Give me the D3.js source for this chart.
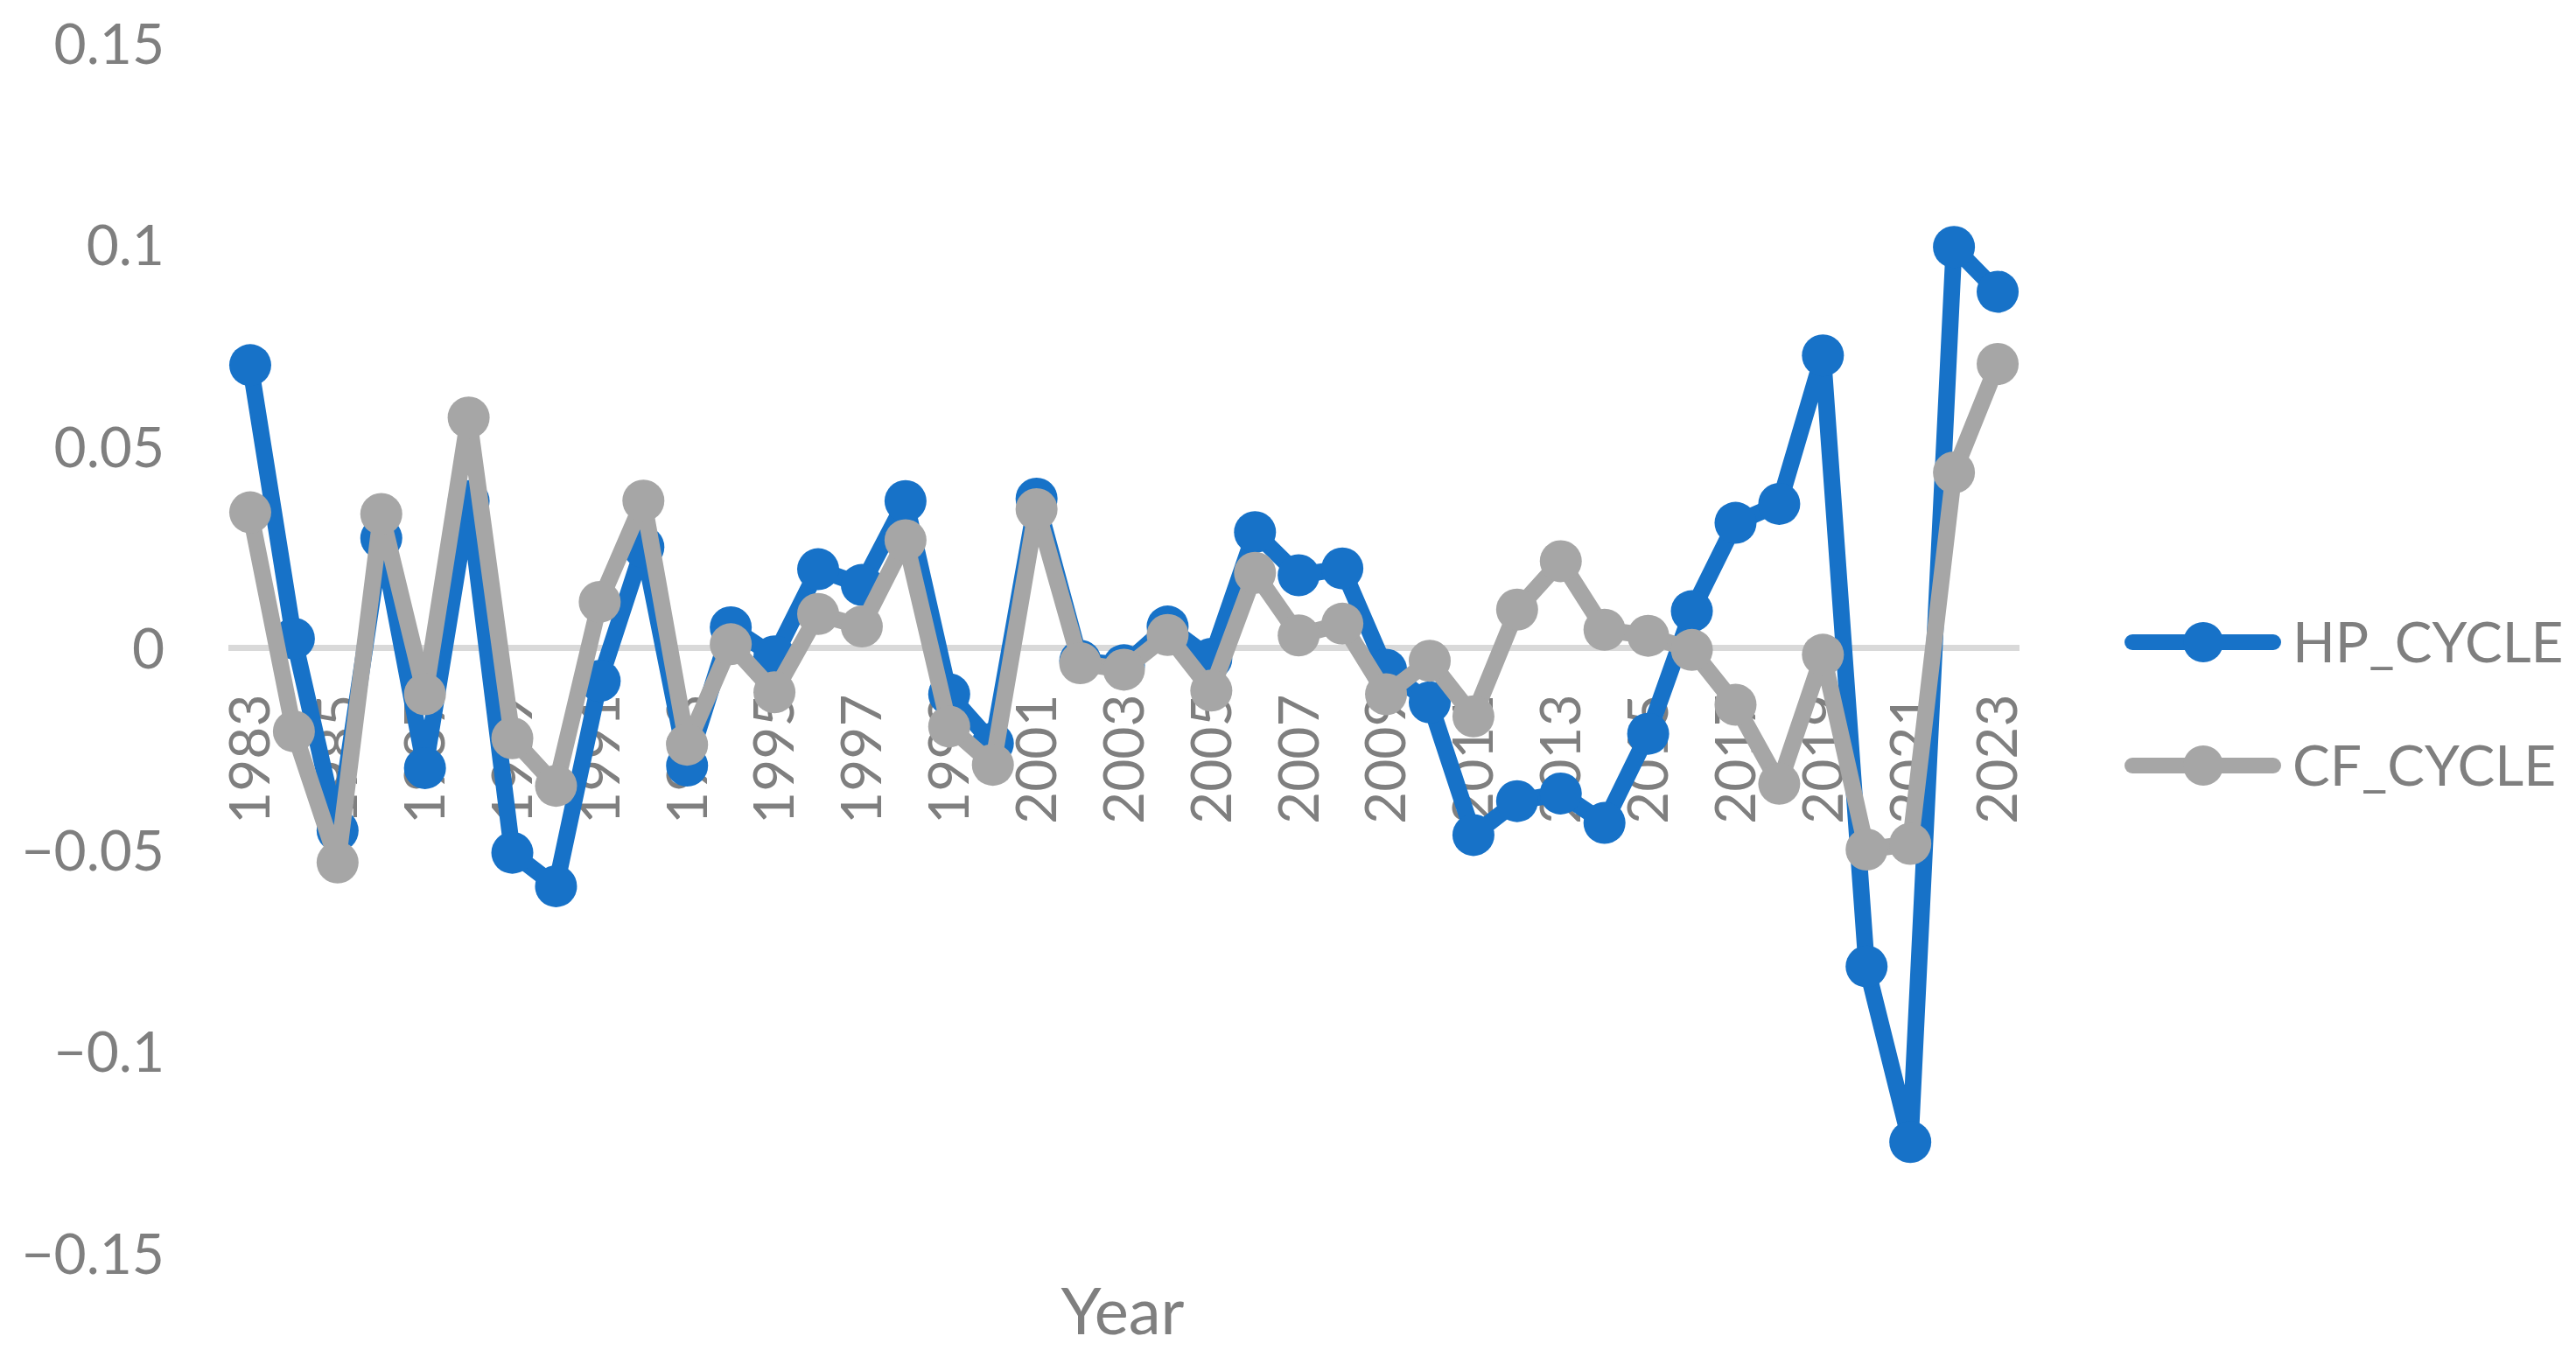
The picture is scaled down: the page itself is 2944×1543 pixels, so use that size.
<!DOCTYPE html>
<html>
<head>
<meta charset="utf-8">
<script src="https://cdn.jsdelivr.net/npm/d3@7"></script>
<style>
  html, body { margin: 0; padding: 0; background: #ffffff; }
  svg { display: block; }
  text { font-family: Lato, "Open Sans", sans-serif; fill: #7f7f7f; }
</style>
</head>
<body>
<svg id="chart" width="2944" height="1543"></svg>
<script>
const years = d3.range(1983, 2024);
const hpCycle = [
  0.0701, 0.0023, -0.0453, 0.0272, -0.0298, 0.0364, -0.0508, -0.0591, -0.0082, 0.0250,
  -0.0292, 0.0051, -0.0021, 0.0195, 0.0156, 0.0364, -0.0115, -0.0237, 0.0370, -0.0032,
  -0.0043, 0.0053, -0.0027, 0.0287, 0.0180, 0.0197, -0.0054, -0.0135, -0.0464, -0.0380,
  -0.0361, -0.0434, -0.0213, 0.0091, 0.0310, 0.0357, 0.0725, -0.0790, -0.1225, 0.0994,
  0.0883
];
const cfCycle = [
  0.0336, -0.0207, -0.0532, 0.0332, -0.0115, 0.0571, -0.0224, -0.0342, 0.0114, 0.0365,
  -0.0240, 0.0009, -0.0110, 0.0084, 0.0053, 0.0267, -0.0195, -0.0290, 0.0344, -0.0038,
  -0.0054, 0.0032, -0.0106, 0.0186, 0.0031, 0.0060, -0.0115, -0.0032, -0.0170, 0.0095,
  0.0215, 0.0045, 0.0030, -0.0005, -0.0141, -0.0337, -0.0017, -0.0500, -0.0486, 0.0435,
  0.0704
];
const yTicks = [-0.15, -0.1, -0.05, 0, 0.05, 0.1, 0.15];
const xTickYears = d3.range(1983, 2024, 2);
const seriesNames = ["HP_CYCLE", "CF_CYCLE"];
const seriesColors = ["#1772c8", "#a6a6a6"];

const svg = d3.select("#chart");
const x = d3.scaleBand().domain(years).range([261, 2308]).padding(0);
const y = d3.scaleLinear().domain([-0.15, 0.15]).range([1432, 49]);

const fmt = v => v === 0 ? "0" : (v < 0 ? "\u2212" : "") + String(Math.abs(+v.toFixed(2)));

// Y axis labels
const yAxis = d3.axisLeft(y).tickValues(yTicks).tickFormat(fmt).tickSize(0).tickPadding(0);
const gy = svg.append("g").attr("transform", "translate(188,0)").call(yAxis);
gy.select(".domain").remove();
gy.selectAll("text").attr("font-size", 64).attr("fill", "#7f7f7f")
  .style("font-family", "Lato, sans-serif").attr("dy", "0.36em");

// zero line
svg.append("line")
  .attr("x1", x.range()[0]).attr("x2", x.range()[1])
  .attr("y1", y(0)).attr("y2", y(0))
  .attr("stroke", "#d9d9d9").attr("stroke-width", 7);

// X axis labels (rotated)
const xAxis = d3.axisBottom(x).tickValues(xTickYears).tickSize(0).tickPadding(0);
const gx = svg.append("g").attr("transform", `translate(0,${y(0)})`).call(xAxis);
gx.select(".domain").remove();
gx.selectAll("text")
  .attr("font-size", 64).attr("fill", "#7f7f7f")
  .style("font-family", "Lato, sans-serif")
  .attr("text-anchor", "end")
  .attr("transform", "translate(0,53) rotate(-90)")
  .attr("x", 0).attr("y", 0).attr("dy", "0.35em");

// series
const allSeries = [hpCycle, cfCycle];
const line = d3.line()
  .x((d, i) => x(years[i]) + x.bandwidth() / 2)
  .y(d => y(d));

allSeries.forEach((vals, si) => {
  const g = svg.append("g");
  g.append("path").datum(vals)
    .attr("d", line)
    .attr("fill", "none")
    .attr("stroke", seriesColors[si])
    .attr("stroke-width", 19)
    .attr("stroke-linejoin", "round")
    .attr("stroke-linecap", "round");
  g.selectAll("circle").data(vals).join("circle")
    .attr("cx", (d, i) => x(years[i]) + x.bandwidth() / 2)
    .attr("cy", d => y(d))
    .attr("r", 24)
    .attr("fill", seriesColors[si]);
});

// legend
const legend = svg.append("g");
seriesNames.forEach((name, i) => {
  const cy = 734 + i * 141;
  legend.append("line")
    .attr("x1", 2437).attr("x2", 2598).attr("y1", cy).attr("y2", cy)
    .attr("stroke", seriesColors[i]).attr("stroke-width", 18).attr("stroke-linecap", "round");
  legend.append("circle").attr("cx", 2518).attr("cy", cy).attr("r", 23).attr("fill", seriesColors[i]);
  legend.append("text")
    .attr("x", 2620).attr("y", cy + 23)
    .attr("font-size", 64)
    .text(name);
});

// axis title
svg.append("text")
  .attr("x", 1283).attr("y", 1525)
  .attr("text-anchor", "middle")
  .attr("font-size", 74)
  .text("Year");
</script>
</body>
</html>
